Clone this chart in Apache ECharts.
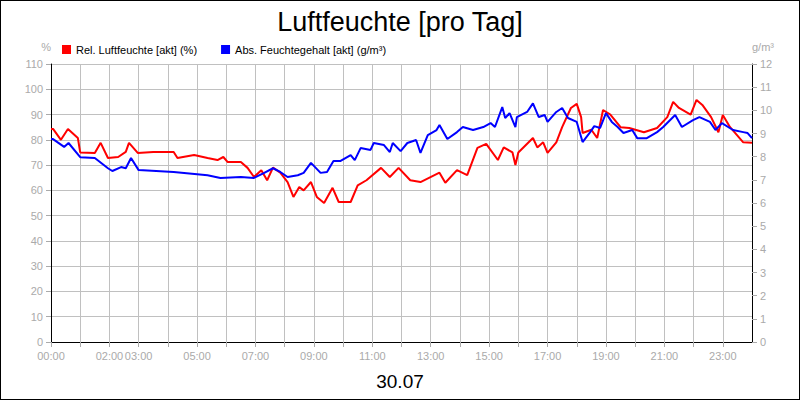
<!DOCTYPE html>
<html><head><meta charset="utf-8">
<script src="https://cdn.jsdelivr.net/npm/echarts@6/dist/echarts.min.js"></script>
<style>html,body{margin:0;padding:0;background:#fff}#c{width:798px;height:398px;border:1px solid #000}</style>
</head><body><div id="c"></div>
<script>
const xTickLabels = ['00:00','02:00','03:00','05:00','07:00','09:00','11:00','13:00','15:00','17:00','19:00','21:00','23:00'];
const redHours = [0,0.07,0.34,0.58,0.92,1.0,1.5,1.7,1.95,2.3,2.56,2.67,2.97,3.5,4.2,4.33,4.9,5.36,5.7,5.9,6.05,6.5,6.73,6.95,7.2,7.4,7.6,7.85,8.1,8.3,8.5,8.65,8.9,9.1,9.35,9.64,9.85,10.26,10.5,10.8,11.3,11.6,11.9,12.3,12.65,13.3,13.5,13.9,14.25,14.6,14.9,15.3,15.5,15.8,15.9,16.0,16.5,16.65,16.85,17.0,17.3,17.5,17.8,18.0,18.15,18.2,18.5,18.7,18.9,19.15,19.5,19.8,20.3,20.75,21.1,21.3,21.5,21.9,22.1,22.3,22.6,22.85,23.0,23.25,23.7,24];
const redValues = [84.3,84.3,80,84.3,80.7,75,74.8,78.8,72.8,73.2,75.2,78.8,74.8,75.2,75.2,72.8,74,72.8,72,73.2,71.2,71.2,68.9,65.3,68,64,69,67,63.3,57.4,61.3,60,63.3,57.4,55,61,55.4,55.4,62,64,68.9,65.3,68.9,64,63.3,67,63,68,66,76.8,78.4,72,77,75,70,75,80.7,77,79,74.8,79,85,92.6,94.2,89,82.7,84,80.7,91.8,90,85,84.7,83,84.7,89,95,92.6,90,95.8,93.8,89,83,89.8,85,79,78.8];
const blueHours = [0,0.07,0.45,0.6,1.0,1.5,1.95,2.1,2.4,2.56,2.74,3.0,4.2,5.36,5.8,6.5,6.95,7.3,7.6,7.85,8.1,8.45,8.65,8.9,9.23,9.45,9.67,9.9,10.26,10.4,10.6,10.94,11.05,11.4,11.6,11.7,11.97,12.2,12.5,12.65,12.9,13.2,13.3,13.57,13.9,14.1,14.45,14.8,15.05,15.2,15.45,15.55,15.7,15.9,15.95,16.3,16.5,16.7,16.9,17.0,17.3,17.5,17.7,18.0,18.2,18.46,18.6,18.8,19.0,19.2,19.4,19.6,19.9,20.07,20.4,20.75,20.96,21.37,21.6,21.98,22.2,22.56,22.75,22.97,23.35,23.7,23.85,24];
const blueValues = [8.76,8.76,8.42,8.59,7.98,7.94,7.5,7.38,7.55,7.5,7.94,7.42,7.34,7.2,7.08,7.12,7.08,7.3,7.5,7.34,7.12,7.2,7.3,7.73,7.3,7.34,7.81,7.81,8.07,7.85,8.37,8.29,8.59,8.5,8.2,8.59,8.24,8.59,8.72,8.16,8.93,9.15,9.37,8.76,9.06,9.28,9.15,9.28,9.45,9.28,10.14,9.67,9.88,9.28,9.71,9.93,10.3,9.71,9.8,9.5,9.93,10.1,9.67,9.5,8.63,9.06,9.32,9.24,9.88,9.5,9.28,9.02,9.15,8.8,8.8,9.06,9.28,9.8,9.28,9.58,9.71,9.5,9.15,9.45,9.15,9.06,9.02,8.8];
const showHours = xTickLabels.map(s => parseInt(s, 10));
const pair = (h, v) => h.map((x, i) => [x, v[i]]);
const grey = '#aaaaaa';
const chart = echarts.init(document.getElementById('c'), null, {renderer: 'svg'});
chart.setOption({
  animation: false,
  title: [
    {text: 'Luftfeuchte [pro Tag]', left: 'center', top: 2, textStyle: {fontFamily: 'Liberation Sans', fontSize: 27, fontWeight: 'normal', color: '#000'}},
    {text: '30.07', left: 'center', top: 366, textStyle: {fontFamily: 'Liberation Sans', fontSize: 19, fontWeight: 'normal', color: '#000'}}
  ],
  legend: {left: 56, top: 38, itemWidth: 9, itemHeight: 9, itemGap: 24, icon: 'rect',
    textStyle: {fontFamily: 'Liberation Sans', fontSize: 11, color: '#000'},
    data: ['Rel. Luftfeuchte [akt] (%)', 'Abs. Feuchtegehalt [akt] (g/m³)']},
  grid: {left: 50, right: 47, top: 63, bottom: 57},
  xAxis: {type: 'value', min: 0, max: 24, interval: 1,
    axisLine: {lineStyle: {color: '#000'}}, axisTick: {show: true, lineStyle: {color: grey}},
    splitLine: {show: true, lineStyle: {color: '#c0c0c0'}},
    axisLabel: {color: grey, fontFamily: 'Liberation Sans', fontSize: 11, showMaxLabel: false,
      formatter: v => showHours.includes(v) ? xTickLabels[showHours.indexOf(v)] : ''}},
  yAxis: [
    {type: 'value', min: 0, max: 110, interval: 10, name: '%', nameGap: 12,
      nameTextStyle: {color: grey, fontFamily: 'Liberation Sans', fontSize: 11, align: 'right'},
      axisLine: {show: true, lineStyle: {color: '#000'}}, axisTick: {show: true, lineStyle: {color: grey}},
      splitLine: {lineStyle: {color: '#c0c0c0'}},
      axisLabel: {color: grey, fontFamily: 'Liberation Sans', fontSize: 11}},
    {type: 'value', min: 0, max: 12, interval: 1, name: 'g/m³', nameGap: 12,
      nameTextStyle: {color: grey, fontFamily: 'Liberation Sans', fontSize: 11, align: 'left'},
      axisLine: {show: true, lineStyle: {color: '#000'}}, axisTick: {show: true, lineStyle: {color: grey}},
      splitLine: {show: false},
      axisLabel: {color: grey, fontFamily: 'Liberation Sans', fontSize: 11}}
  ],
  series: [
    {name: 'Rel. Luftfeuchte [akt] (%)', type: 'line', yAxisIndex: 0, showSymbol: false,
      itemStyle: {color: '#ff0000'}, lineStyle: {color: '#ff0000', width: 2}, data: pair(redHours, redValues)},
    {name: 'Abs. Feuchtegehalt [akt] (g/m³)', type: 'line', yAxisIndex: 1, showSymbol: false,
      itemStyle: {color: '#0000ff'}, lineStyle: {color: '#0000ff', width: 2}, data: pair(blueHours, blueValues)}
  ]
});
</script></body></html>
